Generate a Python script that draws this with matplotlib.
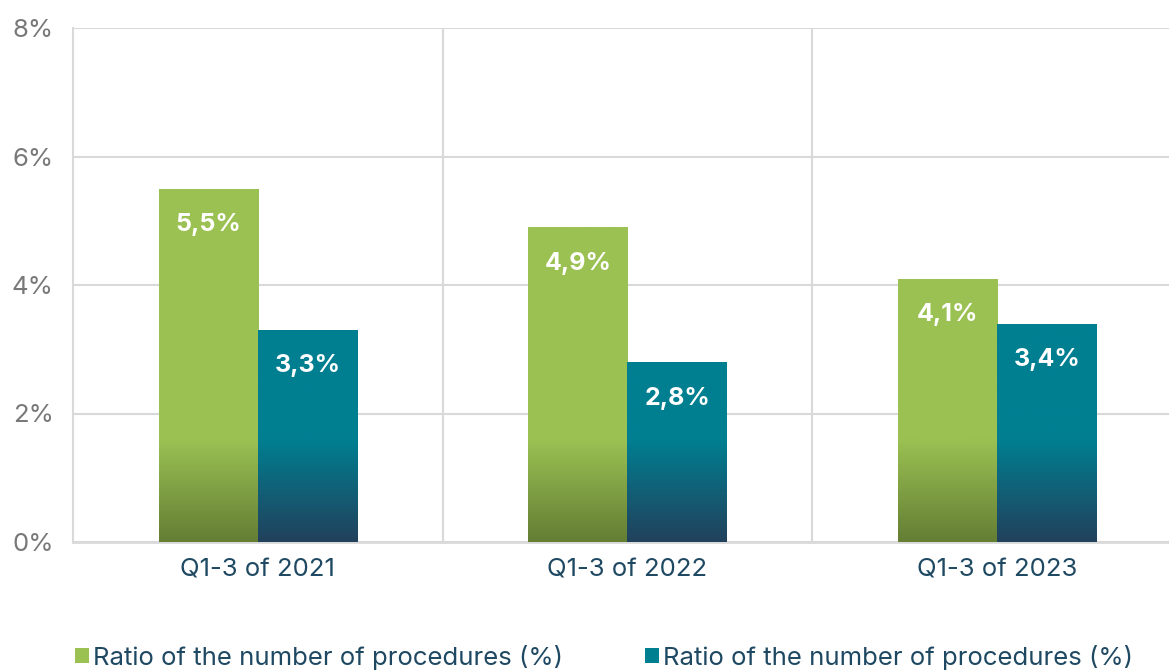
import matplotlib.pyplot as plt
import numpy as np
from matplotlib.colors import LinearSegmentedColormap
from matplotlib.patches import Patch

plt.rcParams["font.family"] = ["Inter", "DejaVu Sans"]

categories = ["Q1-3 of 2021", "Q1-3 of 2022", "Q1-3 of 2023"]
series_names = ["Ratio of the number of procedures (%)", "Ratio of the number of procedures (%)"]
green_values = [5.5, 4.9, 4.1]
teal_values = [3.3, 2.8, 3.4]
value_labels = [["5,5%", "4,9%", "4,1%"], ["3,3%", "2,8%", "3,4%"]]
y_ticks = [0, 2, 4, 6, 8]
y_tick_labels = ["0%", "2%", "4%", "6%", "8%"]

GREEN_TOP, GREEN_BOTTOM = "#9bc153", "#647e34"
TEAL_TOP, TEAL_BOTTOM = "#007f91", "#22415c"
GRID = "#d9d9d9"
TEXT_BLUE = "#1f4962"
TICK_GREY = "#787878"
GRAD_TOP = 1.6  # gradient only in lower part of bars

fig = plt.figure(figsize=(11.69, 6.71), dpi=100)
ax = fig.add_axes([73 / 1169, 1 - 542 / 671, 1109 / 1169, 514 / 671])

x = np.arange(len(categories))
width = 0.268


def gradient_bars(xs, values, top, bottom):
    bars = ax.bar(xs, values, width, color=top, zorder=2)
    cmap = LinearSegmentedColormap.from_list("g", [bottom, top])
    for bar in bars:
        h = bar.get_height()
        ys = np.linspace(0, h, 300)
        grad = np.clip(ys / GRAD_TOP, 0, 1).reshape(-1, 1)
        im = ax.imshow(grad, cmap=cmap, vmin=0, vmax=1, aspect="auto", origin="lower",
                       extent=(bar.get_x(), bar.get_x() + bar.get_width(), 0, h), zorder=3)
        im.set_clip_path(bar)
    return bars


gb = gradient_bars(x - width / 2, green_values, GREEN_TOP, GREEN_BOTTOM)
tb = gradient_bars(x + width / 2, teal_values, TEAL_TOP, TEAL_BOTTOM)

for bars, labels in zip([gb, tb], value_labels):
    for bar, lab in zip(bars, labels):
        ax.annotate(lab, (bar.get_x() + bar.get_width() / 2, bar.get_height()),
                    xytext=(0, -36), textcoords="offset pixels", ha="center", va="center",
                    color="white", fontsize=18, fontweight="bold", zorder=5)

ax.set_xlim(-0.5, 2.5)
ax.set_ylim(0, 8)
ax.set_yticks(y_ticks)
ax.set_yticklabels(y_tick_labels, color=TICK_GREY, fontsize=18.5)
ax.set_xticks(x)
ax.set_xticklabels(categories, color=TEXT_BLUE, fontsize=18.5)
ax.tick_params(axis="both", length=0)
ax.tick_params(axis="y", pad=14)
ax.tick_params(axis="x", pad=12)

ax.yaxis.grid(True, color=GRID, linewidth=1.5, zorder=0)
for xv in [0.5, 1.5]:
    ax.axvline(xv, color=GRID, linewidth=1.5, zorder=0)
for side in ["top", "right"]:
    ax.spines[side].set_visible(False)
ax.spines["left"].set_color(GRID)
ax.spines["left"].set_linewidth(1.5)
ax.spines["bottom"].set_color(GRID)
ax.spines["bottom"].set_linewidth(2)
ax.set_axisbelow(True)

handles = [Patch(facecolor=GREEN_TOP), Patch(facecolor=TEAL_TOP)]
leg = fig.legend(handles, series_names, loc="center left", bbox_to_anchor=(75 / 1169, 1 - 657 / 671),
                 ncol=2, frameon=False, fontsize=18.5, handlelength=0.55, handleheight=0.55,
                 handletextpad=0.15, columnspacing=3.2, borderaxespad=0, borderpad=0)
for t in leg.get_texts():
    t.set_color(TEXT_BLUE)

fig.savefig("out.png", dpi=100)
